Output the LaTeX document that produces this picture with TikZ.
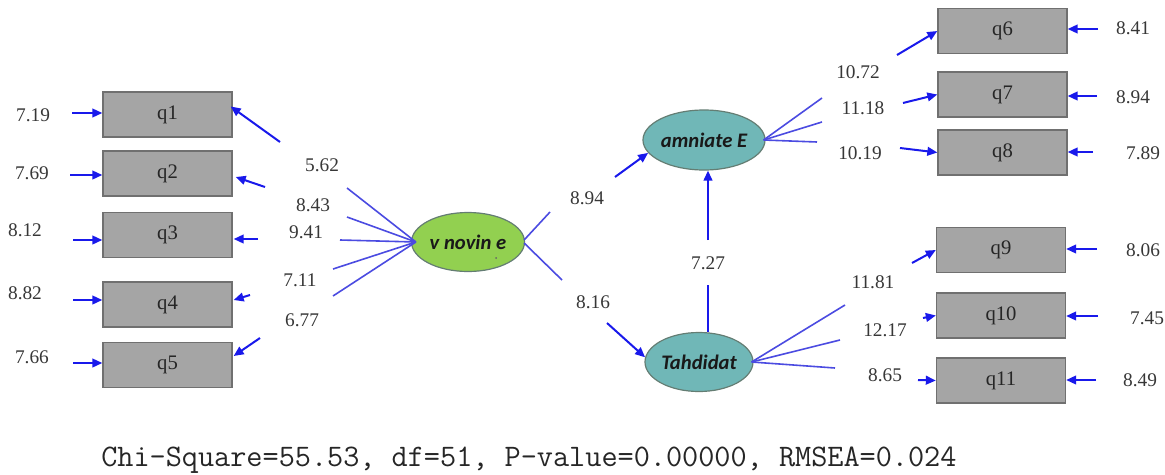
\documentclass[tikz,border=0pt]{standalone}
\usepackage{fontspec}
\setmainfont{Liberation Serif}
\newfontfamily\ellfont{Carlito}
\usetikzlibrary{arrows.meta,calc,shapes.geometric}
\definecolor{boxfill}{RGB}{165,165,165}
\definecolor{boxline}{RGB}{112,112,112}
\definecolor{vgreen}{RGB}{146,208,80}
\definecolor{tealfill}{RGB}{112,183,183}
\definecolor{ellline}{RGB}{100,125,115}
\definecolor{arrblue}{RGB}{25,25,235}
\definecolor{lineblue}{RGB}{75,75,225}
\definecolor{numtext}{RGB}{55,55,55}
\begin{document}
\begin{tikzpicture}[x=0.75pt,y=-0.75pt,
  obs/.style={draw=boxline, fill=boxfill, line width=1pt, minimum width=96.75pt, minimum height=33.75pt, inner sep=0pt, text=black!85, font=\fontsize{15.5}{18}\selectfont},
  lat/.style={ellipse, draw=ellline, line width=0.9pt, inner sep=0pt, text=black!90, font=\ellfont\bfseries\itshape\fontsize{15.5}{19}\selectfont},
  num/.style={inner sep=0pt, text=numtext, font=\fontsize{14.5}{17}\selectfont},
  arr/.style={draw=arrblue, line width=1.5pt, -{Triangle[length=7.5pt,width=6.5pt]}},
  load/.style={draw=lineblue, line width=1.2pt},
]
\useasboundingbox (0,0) rectangle (1165,475);

% observed variables, left
\node[obs] (q1) at (167.5,114.5) {q1};
\node[obs] (q2) at (167.5,173.5) {q2};
\node[obs] (q3) at (167.5,235) {q3};
\node[obs] (q4) at (167.5,304.5) {q4};
\node[obs] (q5) at (167.5,365) {q5};
% observed variables, right
\node[obs] (q6) at (1002.5,31) {q6};
\node[obs] (q7) at (1002.5,94.5) {q7};
\node[obs] (q8) at (1002.5,152.5) {q8};
\node[obs] (q9) at (1001,250) {q9};
\node[obs] (q10) at (1001,315.5) {q10};
\node[obs] (q11) at (1001,380.5) {q11};

% latent variables
\node[lat, fill=vgreen, minimum width=84.75pt, minimum height=44.25pt] (V) at (468,242) {v novin e};
\node[lat, fill=tealfill, minimum width=80.25pt, minimum height=45pt] (A) at (704,140) {amniate E};
\node[lat, fill=tealfill, minimum width=81pt, minimum height=44.25pt] (T) at (699,362) {Tahdidat};
\fill[black!60] (496,258) circle (1);

% error terms, left
\coordinate (e1) at (72,113);
\coordinate (e2) at (70,175);
\coordinate (e3) at (73,240);
\coordinate (e4) at (73,300);
\coordinate (e5) at (73,363);
\draw[arr] (e1) -- (e1 -| q1.west);
\draw[arr] (e2) -- (e2 -| q2.west);
\draw[arr] (e3) -- (e3 -| q3.west);
\draw[arr] (e4) -- (e4 -| q4.west);
\draw[arr] (e5) -- (e5 -| q5.west);
\node[num] (n1) at (33,115) {7.19};
\node[num] (n2) at (32,173) {7.69};
\node[num] (n3) at (25,230) {8.12};
\node[num] (n4) at (25,293) {8.82};
\node[num] (n5) at (32,357) {7.66};

% loadings of v novin e
\coordinate (c1) at (347,188);
\coordinate (c2) at (347,217);
\coordinate (c3) at (340,240);
\coordinate (c4) at (333,269);
\coordinate (c5) at (333,296);
\foreach \c in {c1,c2,c3,c4,c5} \draw[load] ($(V.west)+(5,0)$) -- (\c);
\coordinate (d1) at (280,142);
\coordinate (d2) at (265,187);
\coordinate (d3) at (258,239);
\coordinate (d4) at (250,295);
\coordinate (d5) at (260,338);
\draw[arr] (d1) -- ($(q1.east)+(-2,-8)$);
\draw[arr] (d2) -- ($(q2.east)+(3,3.5)$);
\draw[arr] (d3) -- ($(q3.east)+(1,4)$);
\draw[arr] (d4) -- ($(q4.east)+(1,-4.5)$);
\draw[arr] (d5) -- ($(q5.east)+(1,-9)$);
\node[num] (l1) at (322,165) {5.62};
\node[num] (l2) at (313,205) {8.43};
\node[num] (l3) at (306,232) {9.41};
\node[num] (l4) at (300,280) {7.11};
\node[num] (l5) at (302,320) {6.77};

% structural paths
\coordinate (p1) at (550,212);
\coordinate (p2) at (615,177);
\coordinate (p3) at (562,280);
\coordinate (p4) at (607,323);
\draw[load] ($(V.east)+(-1,-2)$) -- (p1);
\draw[arr] (p2) -- (A.193);
\draw[load] ($(V.east)+(-1,1)$) -- (p3);
\draw[arr] (p4) -- (T.175);
\node[num] (s1) at (587,198) {8.94};
\node[num] (s2) at (593,302) {8.16};
\coordinate (m1) at (708,285);
\coordinate (m2) at (708,240);
\draw[load, draw=arrblue, line width=1.4pt] (T.north -| m1) -- (m1);
\draw[arr] (m2) -- (A.south -| m2);
\node[num] (s3) at (708,263) {7.27};

% loadings of amniate E
\coordinate (r1) at (822,98);
\coordinate (r2) at (822,122);
\coordinate (r3) at (817,142);
\foreach \c in {r1,r2,r3} \draw[load] ($(A.east)+(-2,0)$) -- (\c);
\coordinate (g6) at (897,55);
\coordinate (g7) at (903,103);
\coordinate (g8) at (900,148);
\draw[arr] (g6) -- (q6.west);
\draw[arr] (g7) -- (q7.west);
\draw[arr] (g8) -- (q8.west);
\node[num] (l6) at (858,72) {10.72};
\node[num] (l7) at (863,108) {11.18};
\node[num] (l8) at (860,153) {10.19};

% loadings of Tahdidat
\coordinate (r4) at (845,305);
\coordinate (r5) at (840,340);
\coordinate (r6) at (835,368);
\foreach \c in {r4,r5,r6} \draw[load] ($(T.east)+(-2,0)$) -- (\c);
\coordinate (g9) at (912,263);
\coordinate (g10) at (923,318);
\coordinate (g11) at (918,380);
\draw[arr] (g9) -- (q9.west);
\draw[arr] (g10) -- (q10.west);
\draw[arr] (g11) -- (q11.west);
\node[num] (l9) at (873,282) {11.81};
\node[num] (l10) at (885,330) {12.17};
\node[num] (l11) at (885,375) {8.65};

% error terms, right
\coordinate (f6) at (1098,29);
\coordinate (f7) at (1097,96);
\coordinate (f8) at (1093,152);
\coordinate (f9) at (1097,249);
\coordinate (f10) at (1098,316);
\coordinate (f11) at (1096,380);
\draw[arr] (f6) -- (f6 -| q6.east);
\draw[arr] (f7) -- (f7 -| q7.east);
\draw[arr] (f8) -- (f8 -| q8.east);
\draw[arr] (f9) -- (f9 -| q9.east);
\draw[arr] (f10) -- (f10 -| q10.east);
\draw[arr] (f11) -- (f11 -| q11.east);
\node[num] (n6) at (1133,28) {8.41};
\node[num] (n7) at (1133,97) {8.94};
\node[num] (n8) at (1143,153) {7.89};
\node[num] (n9) at (1143,250) {8.06};
\node[num] (n10) at (1147,318) {7.45};
\node[num] (n11) at (1140,380) {8.49};

% fit statistics
\node[anchor=west, inner sep=0pt, text=black!85, font=\ttfamily\fontsize{23.5}{27}\selectfont] (fit) at (101,460) {Chi-Square=55.53, df=51, P-value=0.00000, RMSEA=0.024};
\end{tikzpicture}
\end{document}
